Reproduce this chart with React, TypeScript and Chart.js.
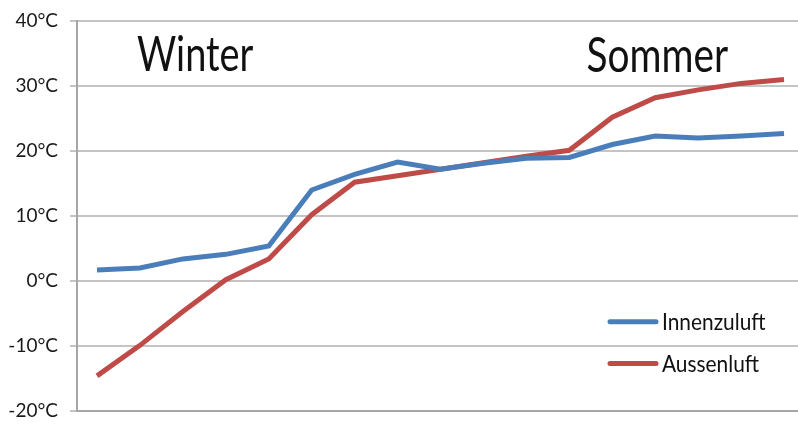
import React, { useEffect, useRef } from "react";
import { Chart, registerables } from "chart.js";

Chart.register(...registerables);

const positions = [0, 1, 2, 3, 4, 5, 6, 7, 8, 9, 10, 11, 12, 13, 14, 15, 16];
const innenzuluft = [1.7, 2.0, 3.4, 4.1, 5.4, 14.0, 16.4, 18.3, 17.2, 18.1, 18.9, 19.0, 21.0, 22.3, 22.0, 22.3, 22.7];
const aussenluft = [-14.6, -9.9, -4.7, 0.2, 3.4, 10.2, 15.2, 16.2, 17.2, 18.2, 19.2, 20.1, 25.2, 28.2, 29.4, 30.4, 31.0];
const seriesNames = ["Innenzuluft", "Aussenluft"];
const seriesColors = ["#4a7ebb", "#be4b48"];
const seasonLabels = ["Winter", "Sommer"];
const yTicks = [-20, -10, 0, 10, 20, 30, 40];

const FONT = "Lato, 'Open Sans', sans-serif";

function drawScaledText(ctx: any, text: string, x: number, y: number, sx: number) {
  ctx.save();
  ctx.translate(x, y);
  ctx.scale(sx, 1);
  ctx.fillText(text, 0, 0);
  ctx.restore();
}

const overlayPlugin = {
  id: "overlay",
  afterDraw(chart: any) {
    const ctx = chart.ctx;
    const x = chart.scales.x;
    const y = chart.scales.y;
    ctx.save();
    ctx.fillStyle = "#111111";
    ctx.font = `48px ${FONT}`;
    ctx.textBaseline = "alphabetic";
    ctx.textAlign = "left";
    drawScaledText(ctx, seasonLabels[0], x.getPixelForValue(0.93), y.getPixelForValue(32.3), 0.79);
    drawScaledText(ctx, seasonLabels[1], x.getPixelForValue(11.4), y.getPixelForValue(32.1), 0.81);
    const legendY = [y.getPixelForValue(-6.25), y.getPixelForValue(-12.7)];
    chart.data.datasets.forEach((ds: any, i: number) => {
      const ly = legendY[i];
      ctx.strokeStyle = ds.borderColor;
      ctx.lineWidth = 5;
      ctx.lineCap = "round";
      ctx.beginPath();
      ctx.moveTo(610, ly);
      ctx.lineTo(656, ly);
      ctx.stroke();
      ctx.fillStyle = "#111111";
      ctx.font = `24px ${FONT}`;
      ctx.textBaseline = "middle";
      drawScaledText(ctx, ds.label, 662, ly + 1, 0.87);
    });
    ctx.restore();
  },
};

export default function App() {
  const ref = useRef<HTMLCanvasElement>(null);
  useEffect(() => {
    if (!ref.current) return;
    const chart = new Chart(ref.current, {
      type: "line",
      data: {
        datasets: [
          {
            label: seriesNames[0],
            data: positions.map((p, i) => ({ x: p, y: innenzuluft[i] })),
            borderColor: seriesColors[0],
            backgroundColor: seriesColors[0],
            borderWidth: 5,
            pointRadius: 0,
            tension: 0,
          },
          {
            label: seriesNames[1],
            data: positions.map((p, i) => ({ x: p, y: aussenluft[i] })),
            borderColor: seriesColors[1],
            backgroundColor: seriesColors[1],
            borderWidth: 5,
            pointRadius: 0,
            tension: 0,
          },
        ],
      },
      options: {
        responsive: false,
        animation: false,
        layout: { padding: { top: 21, right: 0, bottom: 0, left: 0 } },
        plugins: {
          legend: { display: false },
          tooltip: { enabled: false },
        },
        scales: {
          x: {
            type: "linear",
            min: -0.466,
            max: 16.326,
            ticks: { display: false },
            grid: { display: false },
            border: { display: true, color: "#a6a6a6", width: 2 },
            afterFit(scale: any) {
              scale.height = 14;
              scale.paddingLeft = 0;
              scale.paddingRight = 0;
            },
          },
          y: {
            min: -20,
            max: 40,
            afterBuildTicks(scale: any) {
              scale.ticks = yTicks.map((v) => ({ value: v }));
            },
            ticks: {
              color: "#1a1a1a",
              font: { family: FONT, size: 19 },
              padding: 12,
              callback: (v: any) => `${v}°C`,
            },
            grid: { color: "#c4c4c4", lineWidth: 2, tickLength: 7 },
            border: { display: true, color: "#a6a6a6", width: 2 },
            afterFit(scale: any) {
              scale.width = 77;
              scale.paddingTop = 0;
              scale.paddingBottom = 0;
            },
          },
        },
      },
      plugins: [overlayPlugin],
    });
    return () => chart.destroy();
  }, []);
  return (
    <div style={{ position: "fixed", left: 0, top: 0, width: 798, height: 425, background: "#fff" }}>
      <canvas ref={ref} width={798} height={425} style={{ display: "block" }} />
    </div>
  );
}
